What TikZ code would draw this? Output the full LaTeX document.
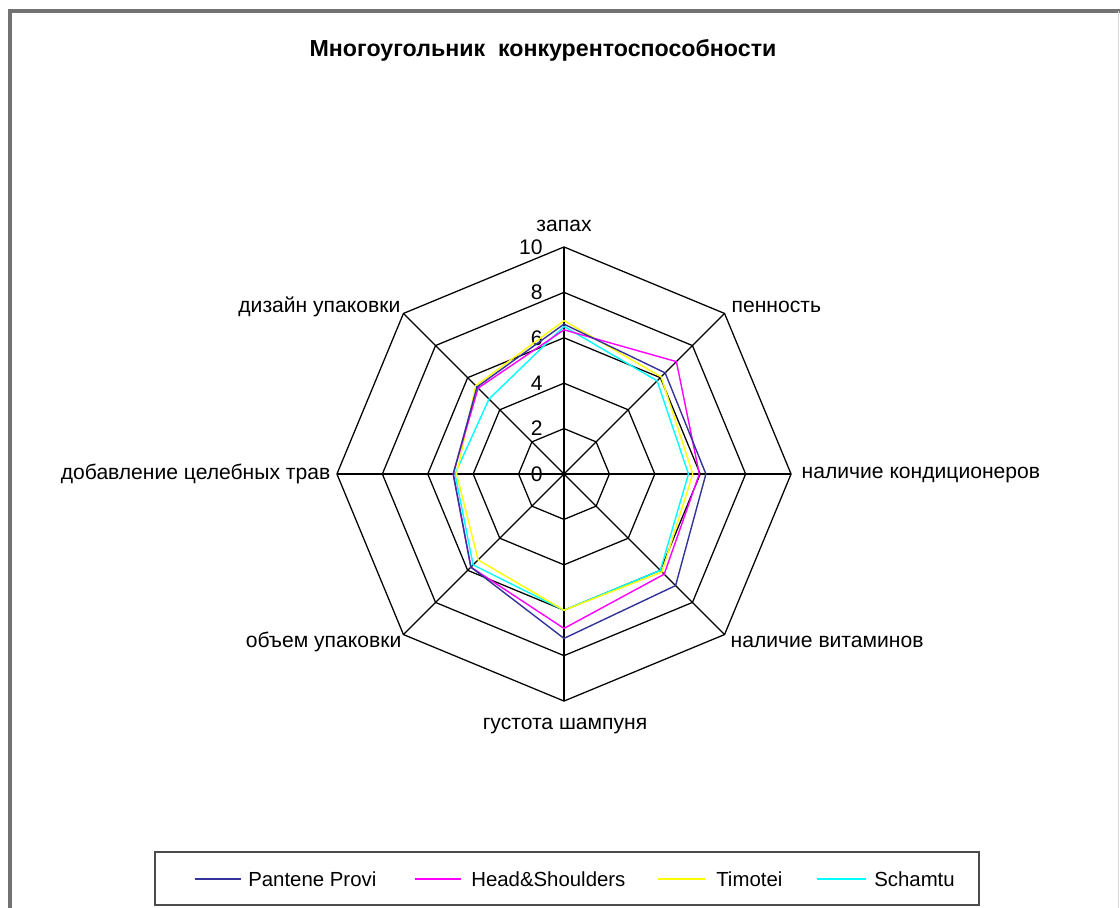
\documentclass[tikz,border=0pt]{standalone}
\usepackage{fontspec}
\setmainfont{Liberation Sans}

\begin{document}
\begin{tikzpicture}[x=0.025cm, y=-0.025cm,
    grid/.style ={draw, black, line width=0.9pt},
    series/.style ={line width=1pt},
    category/.style ={font=\fontsize{15}{17}\selectfont, inner sep=1pt},
    value/.style ={font=\fontsize{15}{17}\selectfont, anchor=east, inner sep=0pt},
    legendtext/.style ={font=\fontsize{14.5}{16}\selectfont, anchor=west, inner sep=0pt}]
   \definecolor{pantene}{RGB}{51,51,153}
   \definecolor{headsh}{RGB}{255,0,255}
   \definecolor{timotei}{RGB}{255,255,0}
   \definecolor{schamtu}{RGB}{0,255,255}
   \useasboundingbox (0,0) rectangle (1120,908);

   % frame of the chart area
   \draw[line width=3pt, black!55] (10,908) -- (10,11) -- (1120,11);
   \draw[black!15] (1118,11) -- (1118,908);

   \node[font=\bfseries\fontsize{16.5}{19}\selectfont] (title) at (543,50) {Многоугольник\ \ конкурентоспособности};

   \begin{scope}[shift={(564,474)}, x=0.5675cm, y=0.5675cm]
   \foreach \r in {2,4,6,8,10}
      \draw[grid] (90:\r) -- (45:\r) -- (0:\r) -- (-45:\r) -- (-90:\r) -- (-135:\r) -- (180:\r) -- (135:\r) -- cycle;
   \foreach \a in {90,45,0,-45,-90,-135,180,135}
      \draw[grid] (0,0) -- (\a:10);

   \node[value] (v0) at (-0.93,0) {0};
   \node[value] (v2) at (-0.93,2) {2};
   \node[value] (v4) at (-0.93,4) {4};
   \node[value] (v6) at (-0.93,6) {6};
   \node[value] (v8) at (-0.93,8) {8};
   \node[value] (v10) at (-0.93,10) {10};

   % data
   \draw[series, schamtu] (90:6.5) -- (45:5.8) -- (0:5.48) -- (-45:6.0) -- (-90:6.0) -- (-135:5.66) -- (180:4.8) -- (135:4.67) -- cycle;
   \draw[series, timotei] (90:6.75) -- (45:6.05) -- (0:5.67) -- (-45:6.1) -- (-90:6.0) -- (-135:5.35) -- (180:4.73) -- (135:5.5) -- cycle;
   \draw[series, headsh] (90:6.35) -- (45:7.0) -- (0:5.96) -- (-45:6.24) -- (-90:6.8) -- (-135:5.8) -- (180:4.88) -- (135:5.35) -- cycle;
   \draw[series, pantene] (90:6.6) -- (45:6.3) -- (0:6.25) -- (-45:6.95) -- (-90:7.24) -- (-135:5.8) -- (180:4.88) -- (135:5.42) -- cycle;
   \end{scope}

   \node[category] (zapah) at (564,226) {запах};
   \node[category, anchor=west] (pennost) at (730,307) {пенность};
   \node[category, anchor=west] (kondic) at (800,475) {наличие кондиционеров};
   \node[category, anchor=west] (vitamin) at (729,642) {наличие витаминов};
   \node[category] (gustota) at (565,726) {густота шампуня};
   \node[category, anchor=east] (obem) at (403,642) {объем упаковки};
   \node[category, anchor=east] (travy) at (332,474) {добавление целебных трав};
   \node[category, anchor=east] (dizain) at (402,307) {дизайн упаковки};

   % legend
   \draw[line width=1.5pt, black!70] (155,852) rectangle (979,905);
   \coordinate (l1a) at (195,879); \coordinate (l1b) at (241,879);
   \coordinate (l2a) at (415,879); \coordinate (l2b) at (461,879);
   \coordinate (l3a) at (658,879); \coordinate (l3b) at (705,879);
   \coordinate (l4a) at (817,879); \coordinate (l4b) at (866,879);
   \draw[series, pantene] (l1a) -- (l1b);
   \draw[series, headsh] (l2a) -- (l2b);
   \draw[series, timotei] (l3a) -- (l3b);
   \draw[series, schamtu] (l4a) -- (l4b);
   \node[legendtext] (pantenetext) at (248,879) {Pantene Provi};
   \node[legendtext] (headtext) at (471,879) {Head\&Shoulders};
   \node[legendtext] (timoteitext) at (716,879) {Timotei};
   \node[legendtext] (schamtutext) at (874,879) {Schamtu};
\end{tikzpicture}
\end{document}
